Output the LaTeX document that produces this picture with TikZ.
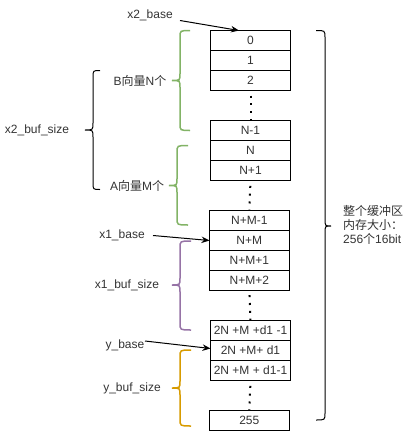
\documentclass[tikz,border=0pt]{standalone}
\usepackage{fontspec}
\setmainfont{Liberation Sans}
\newfontfamily\cjk{Noto Sans CJK SC}
\usetikzlibrary{arrows.meta}
\definecolor{dgreen}{HTML}{82B366}
\definecolor{dpurple}{HTML}{9673A6}
\definecolor{dorange}{HTML}{D79B00}
\definecolor{txt}{HTML}{333333}
% brace: #1 style, #2 tip x, #3 vertical x, #4 end x, #5 top y, #6 mid y, #7 bottom y
\newcommand\mybrace[7]{%
  \draw[#1] (#4,#5) .. controls (#3,#5) .. (#3,#5+7)
    -- (#3,#6-7) .. controls (#3,#6) .. (#2,#6)
    .. controls (#3,#6) .. (#3,#6+7)
    -- (#3,#7-7) .. controls (#3,#7) .. (#4,#7);}
\begin{document}
\begin{tikzpicture}[x=1pt,y=-1pt,
  every node/.style={font=\fontsize{12}{14}\selectfont, text=txt},
  cell/.style={draw=black, line width=1pt, minimum width=79.6pt, minimum height=20pt, inner sep=0pt},
  lbl/.style={inner sep=0pt},
  dotline/.style={line width=2pt, dash pattern=on 2pt off 5.8pt, dash phase=3.1pt},
  ptr/.style={line width=1pt, -{Stealth[length=8pt,width=6.5pt]}},
  bk/.style={line width=1pt, black},
  gb/.style={line width=1.5pt, dgreen},
  pb/.style={line width=1.5pt, dpurple},
  ob/.style={line width=1.5pt, dorange}]
\useasboundingbox (0,0) rectangle (410,431);

% cells
\node[cell] (c0) at (250.5,40.3) {0};
\node[cell] (c1) at (250.5,60.3) {1};
\node[cell] (c2) at (250.5,80.3) {2};
\node[cell] (cN1) at (250.5,130.7) {N-1};
\node[cell] (cN) at (250.5,150.7) {N};
\node[cell] (cNp1) at (250.5,170.7) {N+1};
\node[cell] (cNM1) at (249.3,220) {N+M-1};
\node[cell] (cNM) at (249.3,240) {N+M};
\node[cell] (cNMp1) at (249.3,260) {N+M+1};
\node[cell] (cNMp2) at (249.3,280) {N+M+2};
\node[cell] (cD1) at (250.5,330.7) {2N +M +d1 -1};
\node[cell] (cD2) at (250.5,350.7) {2N +M+ d1};
\node[cell] (cD3) at (250.5,370.7) {2N +M + d1-1};
\node[cell] (c255) at (249.3,420.7) {255};

% dotted gaps
\draw[dotline] (c2.south) -- (cN1.north);
\draw[dotline] (cNp1.south) -- (cNM1.north);
\draw[dotline] (cNMp2.south) -- (cD1.north);
\draw[dotline] (cD3.south) -- (c255.north);

% labels
\node[lbl] (lx2b) at (150,15) {x2\_base};
\node[lbl] (lx1b) at (122,235) {x1\_base};
\node[lbl] (lyb) at (125,345) {y\_base};
\node[lbl] (lB) at (140,80.5) {B{\cjk 向量}N{\cjk 个}};
\node[lbl] (lA) at (137,185.5) {A{\cjk 向量}M{\cjk 个}};
\node[lbl] (lx2s) at (37,130) {x2\_buf\_size};
\node[lbl] (lx1s) at (127,285) {x1\_buf\_size};
\node[lbl] (lys) at (132,388) {y\_buf\_size};
\node[lbl, anchor=west, align=left] (ltot) at (343,225) {{\cjk 整个缓冲区}\\{\cjk 内存大小：}\\256{\cjk 个}16bit};

% pointer arrows
\coordinate (ax2) at (180,20.5);
\coordinate (ax2e) at (239,30.5);
\coordinate (ax1) at (153,235.5);
\coordinate (ax1e) at (209.5,240.5);
\coordinate (ay) at (145,341);
\coordinate (aye) at (210.5,348.5);
\draw[ptr] (ax2) -- (ax2e);
\draw[ptr] (ax1) -- (ax1e);
\draw[ptr] (ay) -- (aye);

% braces
\mybrace{gb}{172}{180}{190}{30.5}{80.5}{130.5}
\mybrace{gb}{169}{177}{188}{145.5}{185.5}{225}
\mybrace{bk}{85}{93}{100}{70.5}{130}{189.5}
\mybrace{pb}{172}{180}{191}{241}{285}{330}
\mybrace{ob}{172}{180}{191}{350}{388}{426}
\mybrace{bk}{331}{325}{316}{30.5}{226}{420}
\end{tikzpicture}
\end{document}
